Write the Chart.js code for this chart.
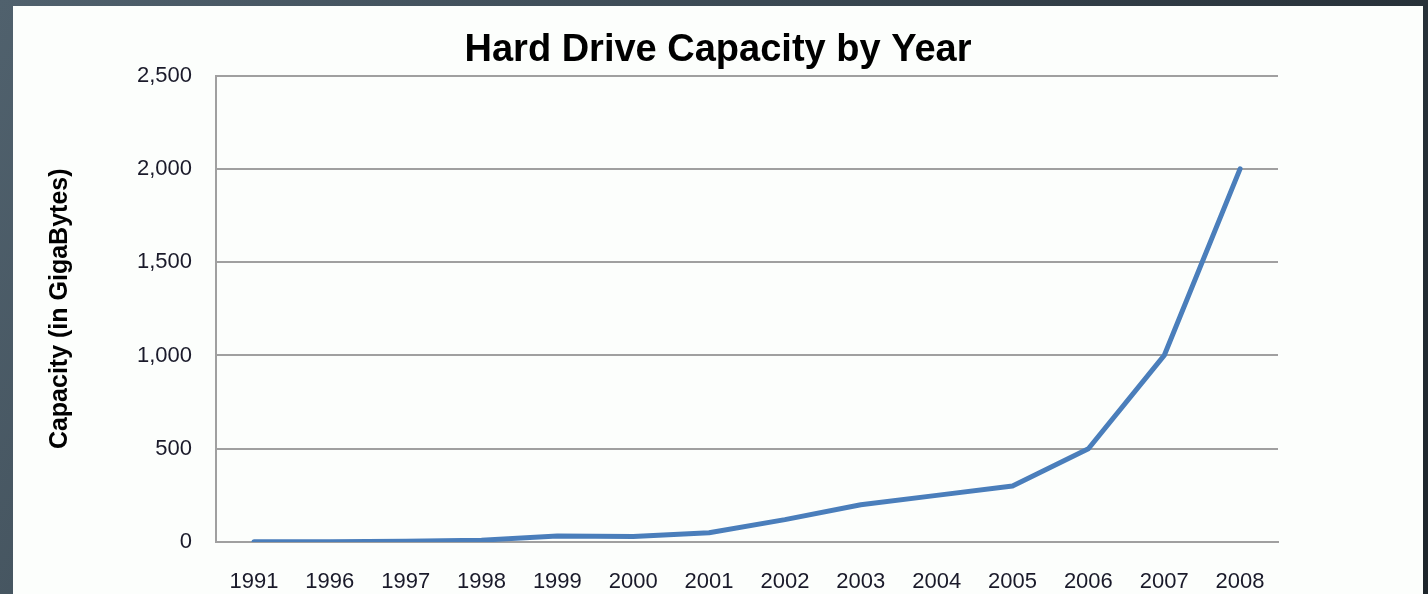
<!DOCTYPE html>
<html>
<head>
<meta charset="utf-8">
<script src="https://cdn.jsdelivr.net/npm/chart.js@4"></script>
<style>
  html, body { margin:0; padding:0; width:1428px; height:594px; overflow:hidden; }
  body { background: linear-gradient(120deg, #50616d 0%, #3a4852 45%, #1d252b 100%); position:relative; }
  #panel { position:absolute; left:13px; top:6px; width:1410px; height:588px; background:#fcfefc; }
  canvas { display:block; }
</style>
</head>
<body>
<div id="panel"><canvas id="c" width="1410" height="588"></canvas></div>
<script>
const years = ["1991","1996","1997","1998","1999","2000","2001","2002","2003","2004","2005","2006","2007","2008"];
const capacityGB = [1, 2, 4, 10, 32, 30, 50, 120, 200, 250, 300, 500, 1000, 2000];
const yTicks = [0, 500, 1000, 1500, 2000, 2500];
const chartTitle = "Hard Drive Capacity by Year";
const yTitle = "Capacity (in GigaBytes)";

new Chart(document.getElementById('c'), {
  type: 'line',
  data: {
    labels: years,
    datasets: [{
      data: capacityGB,
      yAxisID: 'y',
      borderColor: '#4a7ebb',
      borderWidth: 5,
      pointRadius: 0,
      tension: 0,
      fill: false,
      borderJoinStyle: 'round',
      borderCapStyle: 'round'
    }]
  },
  options: {
    responsive: false,
    animation: false,
    layout: { padding: { left: 0, right: 0, top: 0, bottom: 0 } },
    plugins: {
      legend: { display: false },
      tooltip: { enabled: false },
      title: {
        display: true,
        text: chartTitle,
        color: '#000',
        font: { family: 'Liberation Sans', weight: 'bold', size: 38, lineHeight: 1.2 },
        padding: { top: 22, bottom: 2 }
      }
    },
    scales: {
      x: {
        offset: true,
        grid: { display: false, drawTicks: false },
        border: { display: true, color: '#a0a0a0', width: 2 },
        ticks: { color: '#1a1a2a', font: { family: 'Liberation Sans', size: 22 }, padding: 27, maxRotation: 0, autoSkip: false },
        afterFit: (s) => { s.height = 52; }
      },
      y: {
        position: 'left',
        min: 0, max: 2500,
        afterBuildTicks: (s) => { s.ticks = yTicks.map(v => ({ value: v })); },
        grid: { color: '#a0a0a0', lineWidth: 2, drawTicks: false },
        border: { display: true, color: '#a0a0a0', width: 2 },
        ticks: {
          color: '#1a1a2a',
          font: { family: 'Liberation Sans', size: 22 },
          padding: 24,
          callback: (v) => Number(v).toLocaleString('en-US')
        },
        title: {
          display: true,
          text: yTitle,
          color: '#000',
          font: { family: 'Liberation Sans', weight: 'bold', size: 25, lineHeight: 1.2 },
          padding: { top: 32, bottom: 0 }
        },
        afterFit: (s) => { s.width = 203; }
      },
      yRight: {
        position: 'right',
        display: true,
        grid: { display: false, drawTicks: false },
        border: { display: false },
        ticks: { display: false },
        afterFit: (s) => { s.width = 145; }
      }
    }
  }
});
</script>
</body>
</html>
